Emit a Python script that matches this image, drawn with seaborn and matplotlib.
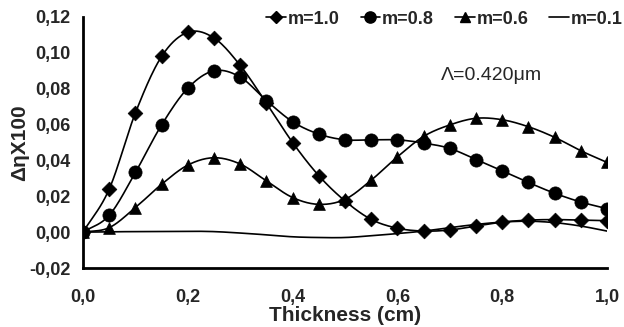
import numpy as np
import pandas as pd
import matplotlib
matplotlib.use("Agg")
import matplotlib.pyplot as plt
import seaborn as sns
from matplotlib.lines import Line2D

sns.set_style("white")
plt.rcParams['font.family'] = ['Liberation Sans', 'DejaVu Sans']

thickness = [0.0, 0.05, 0.10, 0.15, 0.20, 0.25, 0.30, 0.35, 0.40, 0.45, 0.50,
             0.55, 0.60, 0.65, 0.70, 0.75, 0.80, 0.85, 0.90, 0.95, 1.00]
m10 = [0.0, 0.024, 0.0665, 0.098, 0.1115, 0.1083, 0.093, 0.072, 0.050, 0.0315, 0.0174,
       0.0071, 0.0022, 0.0006, 0.0012, 0.0034, 0.0056, 0.0067, 0.0070, 0.0067, 0.0064]
m08 = [0.0, 0.0094, 0.0333, 0.0598, 0.0803, 0.0900, 0.0865, 0.0734, 0.0616, 0.0547, 0.0515,
       0.0515, 0.0515, 0.0497, 0.0467, 0.0405, 0.0342, 0.0277, 0.0217, 0.0168, 0.0131]
m06 = [0.0, 0.0025, 0.0137, 0.0267, 0.0374, 0.0415, 0.0380, 0.0286, 0.0193, 0.0155, 0.0183,
       0.0290, 0.0420, 0.0534, 0.0598, 0.0635, 0.0627, 0.0588, 0.0529, 0.0454, 0.0389]
m01 = [0.0, 0.0002, 0.0003, 0.0004, 0.0005, 0.0003, -0.0005, -0.0015, -0.0026, -0.0030, -0.0030,
       -0.0020, -0.0008, 0.0006, 0.0025, 0.0043, 0.0056, 0.0061, 0.0053, 0.0034, 0.0006]
labels = ["m=1.0", "m=0.8", "m=0.6", "m=0.1"]
markers = ["D", "o", "^", None]
msizes = [7.5, 9.5, 8.5, 0]
xticks = [0.0, 0.2, 0.4, 0.6, 0.8, 1.0]
yticks = [-0.02, 0.0, 0.02, 0.04, 0.06, 0.08, 0.10, 0.12]


def smooth(x, y, n=20):
    # Catmull-Rom spline through the points (for Excel-like smoothed lines)
    x = np.asarray(x, float); y = np.asarray(y, float)
    px = np.concatenate([[2 * x[0] - x[1]], x, [2 * x[-1] - x[-2]]])
    py = np.concatenate([[2 * y[0] - y[1]], y, [2 * y[-1] - y[-2]]])
    xs, ys = [], []
    t = np.linspace(0, 1, n, endpoint=False)
    for i in range(1, len(px) - 2):
        for arr, out in ((px, xs), (py, ys)):
            p0, p1, p2, p3 = arr[i - 1], arr[i], arr[i + 1], arr[i + 2]
            out.extend(0.5 * ((2 * p1) + (-p0 + p2) * t + (2 * p0 - 5 * p1 + 4 * p2 - p3) * t ** 2
                              + (-p0 + 3 * p1 - 3 * p2 + p3) * t ** 3))
    xs.append(x[-1]); ys.append(y[-1])
    return np.array(xs), np.array(ys)


fig = plt.figure(figsize=(6.24, 3.27), dpi=100)
ax = fig.add_axes([83 / 624, 1 - 268 / 327, (607 - 83) / 624, (268 - 17) / 327])

handles = []
for lab, ys, mk, ms in zip(labels, [m10, m08, m06, m01], markers, msizes):
    sx, sy = smooth(thickness, ys)
    sns.lineplot(x=sx, y=sy, ax=ax, color="black", linewidth=1.2, sort=False, estimator=None)
    if mk is not None:
        df = pd.DataFrame({"x": thickness, "y": ys})
        sns.scatterplot(data=df, x="x", y="y", ax=ax, marker=mk, s=ms ** 2, color="black",
                        edgecolor="black", linewidth=0.5, zorder=3)
    handles.append(Line2D([], [], color="black", linewidth=1.2, marker=mk,
                          markersize=ms * 0.85 if mk else 0))

ax.set_xlim(0, 1.0)
ax.set_ylim(-0.02, 0.12)
ax.set_xticks(xticks)
ax.set_yticks(yticks)
ax.set_xticklabels([f"{v:.1f}".replace(".", ",") for v in xticks], fontsize=13, fontweight="bold")
ax.set_yticklabels([f"{v:.2f}".replace(".", ",") for v in yticks], fontsize=13, fontweight="bold")
for s in ["top", "right"]:
    ax.spines[s].set_visible(False)
for s in ["left", "bottom"]:
    ax.spines[s].set_linewidth(2)
    ax.spines[s].set_color("black")
ax.tick_params(axis="both", direction="out", length=5, width=2, color="black", pad=4)
ax.tick_params(axis="x", pad=10)

ax.set_xlabel("Thickness (cm)", fontsize=15, fontweight="bold", labelpad=0)
ax.set_ylabel("ΔηX100", fontsize=15, fontweight="bold", labelpad=0)

ax.text(0.78, 0.0872, "Λ=0.420μm", fontsize=14, ha="center", va="center")

leg = fig.legend(handles, labels, loc="center left", bbox_to_anchor=(250 / 624, 1 - 19 / 327),
                 ncol=4, frameon=False, handlelength=1.1, handletextpad=0.1, columnspacing=1.15,
                 prop={"size": 13, "weight": "bold"})

fig.savefig("out.png", dpi=100)
